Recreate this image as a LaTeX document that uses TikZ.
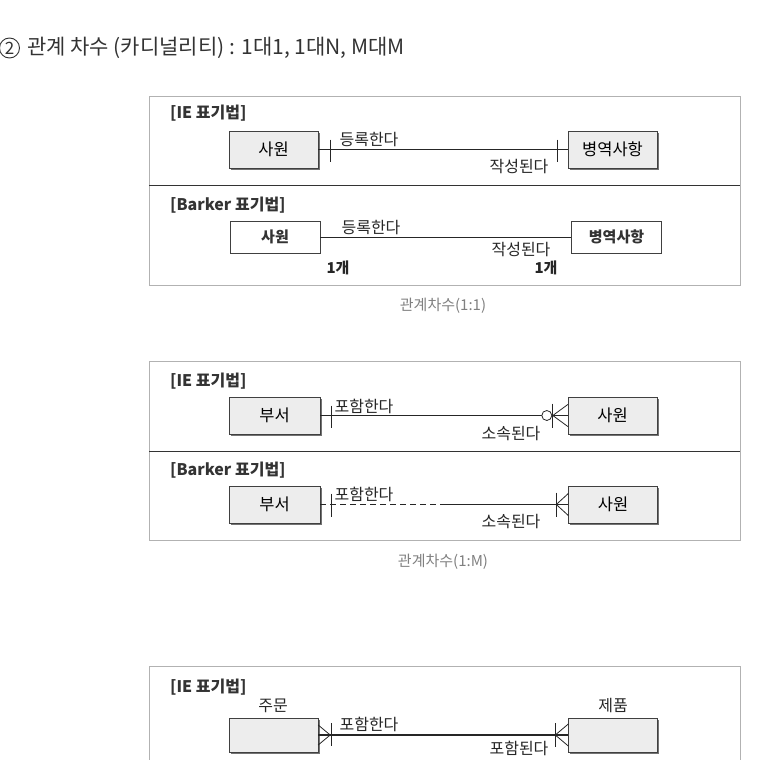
\documentclass[tikz,border=0pt]{standalone}
\usepackage{fontspec}
\newfontfamily\kr{Noto Sans CJK KR}
\usetikzlibrary{shadows,calc}
\begin{document}
\begin{tikzpicture}[x=1pt,y=-1pt,
  lbl/.style={font=\kr\fontsize{16}{18}\selectfont,text=black!85,inner sep=0pt},
  hdr/.style={font=\kr\bfseries\fontsize{16}{18}\selectfont,text=black!80,inner sep=0pt,anchor=west},
  ent/.style={draw=black!75,fill=black!7,minimum width=89pt,minimum height=37pt,inner sep=0pt,
    font=\kr\fontsize{16.5}{18}\selectfont,
    drop shadow={shadow xshift=1.5pt,shadow yshift=-1.5pt,fill=black!55,opacity=1}},
  bent/.style={draw=black!75,fill=white,minimum width=90pt,minimum height=32pt,inner sep=0pt,
    font=\kr\bfseries\fontsize{15}{17}\selectfont,text=black!80},
  panel/.style={draw=black!30,line width=0.8pt},
  rel/.style={line width=1.3pt,black!85},
  brel/.style={line width=0.8pt,black!85},
  tickln/.style={line width=0.8pt,black!85},
  capt/.style={font=\kr\fontsize{15}{17}\selectfont,text=black!50,inner sep=0pt}]
\useasboundingbox (0,0) rectangle (759,760);
% title
\node[circle,draw=black!80,line width=0.9pt,minimum size=20pt,inner sep=0pt,
  font=\kr\fontsize{17}{19}\selectfont,text=black!80] (num) at (9.5,48) {2};
\node[font=\kr\fontsize{21}{23}\selectfont,text=black!80,inner sep=0pt,anchor=west] (title) at (27,48)
  {관계 차수 (카디널리티) : 1대1, 1대N, M대M};

% ---- 1:1 ----
\draw[panel] (149,96) rectangle (740,285);
\draw[line width=1pt,black!80] (149,185) -- (740,185);
\node[hdr] (ie1) at (170,113) {[IE 표기법]};
\node[ent] (emp1) at (273.5,149.5) {사원};
\node[ent] (mil1) at (612.5,149.5) {병역사항};
\draw[rel] (emp1.east) -- (mil1.west);
\draw[tickln] (emp1.east) ++(12,-10) -- ++(0,22);
\draw[tickln] (mil1.west) ++(-10,-10) -- ++(0,22);
\node[lbl] (r1a) at (369,140) {등록한다};
\node[lbl] (r1b) at (519,167) {작성된다};
\node[hdr] (bk1) at (170,205) {[Barker 표기법]};
\node[bent] (emp1b) at (275,237) {사원};
\node[bent] (mil1b) at (616.5,237) {병역사항};
\draw[brel] (emp1b.east) -- (mil1b.west);
\node[lbl] (r1c) at (371,228) {등록한다};
\node[lbl] (r1d) at (521,250) {작성된다};
\node[lbl,font=\kr\bfseries\fontsize{15}{17}\selectfont] (n1a) at (338,268) {1개};
\node[lbl,font=\kr\bfseries\fontsize{15}{17}\selectfont] (n1b) at (546,268) {1개};
\node[capt] (cap1) at (443,306) {관계차수(1:1)};

% ---- 1:M ----
\draw[panel] (149,361) rectangle (740,540);
\draw[line width=1pt,black!80] (149,451) -- (740,451);
\node[hdr] (ie2) at (170,381) {[IE 표기법]};
\node[ent,minimum width=91pt] (dep2) at (274.5,415.5) {부서};
\node[ent] (emp2) at (612.5,415.5) {사원};
\draw[rel] (dep2.east) -- (emp2.west);
\draw[tickln] (dep2.east) ++(11,-10) -- ++(0,22);
\draw[tickln,fill=white] (emp2.west) ++(-21,0) circle (5);
\draw[tickln] (emp2.west) ++(-15,-12) -- ++(0,24);
\draw[tickln] (emp2.west) ++(0,-11) -- ++(-15,11) -- ++(15,11);
\node[lbl] (r2a) at (364,406) {포함한다};
\node[lbl] (r2b) at (511,434) {소속된다};
\node[hdr] (bk2) at (170,470) {[Barker 표기법]};
\node[ent,minimum width=91pt] (dep2b) at (274.5,504.5) {부서};
\node[ent] (emp2b) at (613,504.5) {사원};
\coordinate (half2) at ($(dep2b.east)!0.5!(emp2b.west)$);
\draw[brel,dash pattern=on 6pt off 4pt] (dep2b.east) -- (half2);
\draw[brel] (half2) -- (emp2b.west);
\draw[tickln] (dep2b.east) ++(11,-11) -- ++(0,23);
\draw[tickln] (emp2b.west) ++(-12,-12) -- ++(0,24);
\draw[tickln] (emp2b.west) ++(0,-11) -- ++(-12,11) -- ++(12,11);
\node[lbl] (r2c) at (364,494) {포함한다};
\node[lbl] (r2d) at (511,522) {소속된다};
\node[capt] (cap2) at (443,562) {관계차수(1:M)};

% ---- M:M ----
\draw[panel] (149,666) rectangle (740,790);
\node[hdr] (ie3) at (170,687) {[IE 표기법]};
\node[ent,minimum height=34pt] (ord3) at (273.5,735) {};
\node[ent,minimum height=34pt] (prd3) at (613,735) {};
\node[lbl] (ordl) at (273,706) {주문};
\node[lbl] (prdl) at (613,705) {제품};
\draw[rel] (ord3.east) -- (prd3.west);
\draw[tickln] (ord3.east) ++(13,-12) -- ++(0,23);
\draw[tickln] (ord3.east) ++(0,-10) -- ++(12,10) -- ++(-12,10);
\draw[tickln] (prd3.west) ++(-13,-12) -- ++(0,24);
\draw[tickln] (prd3.west) ++(0,-11) -- ++(-13,11) -- ++(13,11);
\node[lbl] (r3a) at (369,724) {포함한다};
\node[lbl] (r3b) at (519,748) {포함된다};
\end{tikzpicture}
\end{document}
